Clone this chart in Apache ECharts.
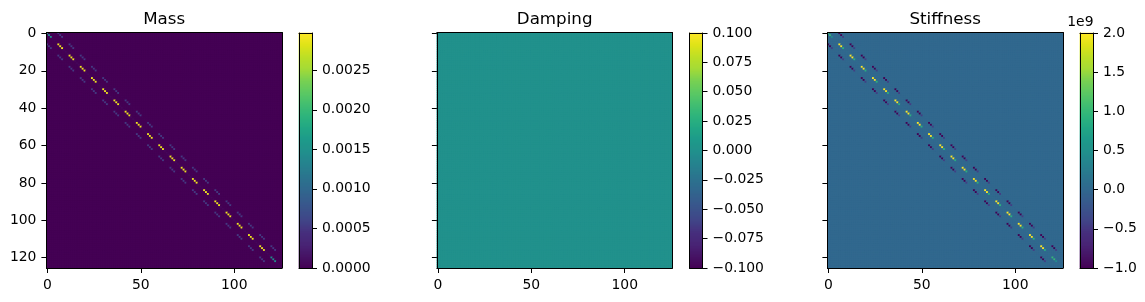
<!DOCTYPE html>
<html><head><meta charset="utf-8">
<script src="https://cdn.jsdelivr.net/npm/echarts@6/dist/echarts.min.js"></script>
<style>html,body{margin:0;padding:0;background:#fff}#c{width:1145px;height:302px}</style>
</head><body><div id="c"></div>
<script>
// ---------------- data ----------------
const titles = ['Mass', 'Damping', 'Stiffness'];
const nNodes = 21;
const dofPerNode = 6;
// mass matrix blocks (per node, per dof)
const massDiagEnd = [0.00145, 0.00145, 0.00145, 0.00002, 0.00002, 0.00002];
const massDiagMid = [0.0029, 0.0029, 0.0029, 0.00004, 0.00004, 0.00004];
const massOff     = [0.00052, 0.00052, 0.00052, 0.00001, 0.00001, 0.00001];
// damping matrix blocks (all zero)
const dampDiagEnd = [0, 0, 0, 0, 0, 0];
const dampDiagMid = [0, 0, 0, 0, 0, 0];
const dampOff     = [0, 0, 0, 0, 0, 0];
// stiffness matrix blocks
const stiffDiagEnd = [1.0e9, 1.0e9, 0.45e9, 0.02e9, 0.02e9, 0.02e9];
const stiffDiagMid = [2.0e9, 2.0e9, 0.9e9, 0.04e9, 0.04e9, 0.04e9];
const stiffOff     = [-1.0e9, -1.0e9, -0.45e9, -0.02e9, -0.02e9, -0.02e9];
// tick labels
const xTicks = [0, 50, 100];
const yTicks = [0, 20, 40, 60, 80, 100, 120];
const massRange = [0, 0.00297];
const dampRange = [-0.1, 0.1];
const stiffRange = [-1.0e9, 2.0e9];
const massCbTicks = [0, 0.0005, 0.0010, 0.0015, 0.0020, 0.0025];
const dampCbTicks = [-0.100, -0.075, -0.050, -0.025, 0, 0.025, 0.050, 0.075, 0.100];
const stiffCbTicks = [-1.0, -0.5, 0.0, 0.5, 1.0, 1.5, 2.0]; // x 1e9
const cbDecimals = [4, 3, 1];
const offsetText = '1e9';

// ---------------- helpers ----------------
const viridis = ['#440154','#471365','#482475','#472f7d','#414487','#3b528b','#355f8d','#2f6c8e','#2a788e','#25848e','#21918c','#1e9b8a','#22a884','#2fb47c','#44bf70','#5ec962','#7ad151','#a5db36','#bddf26','#dfe318','#fde725'];
function assemble(diagEnd, diagMid, off) {
  const n = nNodes * dofPerNode;
  const M = Array.from({length: n}, () => new Array(n).fill(0));
  for (let k = 0; k < nNodes; k++) {
    const d = (k === 0 || k === nNodes - 1) ? diagEnd : diagMid;
    for (let j = 0; j < dofPerNode; j++) {
      const i = k * dofPerNode + j;
      M[i][i] = d[j];
      if (k < nNodes - 1) { M[i][i + dofPerNode] = off[j]; M[i + dofPerNode][i] = off[j]; }
    }
  }
  return M;
}
const mats = [assemble(massDiagEnd, massDiagMid, massOff), assemble(dampDiagEnd, dampDiagMid, dampOff), assemble(stiffDiagEnd, stiffDiagMid, stiffOff)];
const ranges = [massRange, dampRange, stiffRange];
const cbTicks = [massCbTicks, dampCbTicks, stiffCbTicks];
const cbScale = [1, 1, 1e9];
const N = nNodes * dofPerNode;
const cats = Array.from({length: N}, (_, i) => String(i));
const FONT = 'DejaVu Sans';
const tickFs = 13.9;

// layout
const panelLeft = [46.4, 436.9, 827.4];
const cbLeft = [299, 689.5, 1080];
const gridTop = 32.5, size = 235.5, cbW = 13;
const cbTop = 33, cbH = 235;
const bgZero = ['#440154', '#21918c', '#31688e'];

const grids = [], xAxes = [], yAxes = [], series = [], visualMaps = [];
const lineOnly = (extra) => Object.assign({
  axisLine: {show: true, onZero: false, lineStyle: {color: '#000', width: 1}},
  axisTick: {show: false}, axisLabel: {show: false}, splitLine: {show: false}, z: 10
}, extra);
function fmt(v, d) { return v.toFixed(d).replace('-', '\u2212'); }

for (let p = 0; p < 3; p++) {
  const g = grids.length;
  grids.push({left: panelLeft[p], top: gridTop, width: size, height: size, show: true, backgroundColor: bgZero[p], borderWidth: 0});
  const xb = xAxes.length;
  xAxes.push({type: 'category', gridIndex: g, data: cats, position: 'bottom', z: 10,
    axisLine: {show: true, onZero: false, lineStyle: {color: '#000', width: 1}},
    axisTick: {show: true, length: 5, alignWithLabel: true, interval: (i) => xTicks.includes(i), lineStyle: {color: '#000', width: 1}},
    axisLabel: {show: true, interval: (i) => xTicks.includes(i), margin: 10, color: '#000', fontSize: tickFs, fontFamily: FONT},
    splitLine: {show: false}});
  xAxes.push(lineOnly({type: 'category', gridIndex: g, data: cats, position: 'top'}));
  const yl = yAxes.length;
  yAxes.push({type: 'category', gridIndex: g, data: cats, inverse: true, position: 'left', z: 10,
    axisLine: {show: true, onZero: false, lineStyle: {color: '#000', width: 1}},
    axisTick: {show: true, length: 5, alignWithLabel: true, interval: (i) => yTicks.includes(i), lineStyle: {color: '#000', width: 1}},
    axisLabel: {show: p === 0, interval: (i) => yTicks.includes(i), margin: 10, color: '#000', fontSize: tickFs, fontFamily: FONT},
    splitLine: {show: false}});
  yAxes.push(lineOnly({type: 'category', gridIndex: g, data: cats, position: 'right'}));
  const data = [];
  const M = mats[p];
  for (let r = 0; r < N; r++) for (let c = 0; c < N; c++) data.push([c, r, M[r][c]]);
  const sPanel = series.length;
  series.push({type: 'heatmap', xAxisIndex: xb, yAxisIndex: yl, data: data, progressive: 0, animation: false,
    emphasis: {disabled: true}, itemStyle: {borderWidth: 0}});

  const gc = grids.length;
  grids.push({left: cbLeft[p], top: cbTop, width: cbW, height: cbH, show: false});
  const levels = cbH;
  const [lo, hi] = ranges[p];
  const lvCats = Array.from({length: levels}, (_, i) => String(i));
  const cbx = xAxes.length;
  xAxes.push(lineOnly({type: 'category', gridIndex: gc, data: ['0'], position: 'bottom'}));
  xAxes.push(lineOnly({type: 'category', gridIndex: gc, data: ['0'], position: 'top'}));
  const cby = yAxes.length;
  yAxes.push(lineOnly({type: 'category', gridIndex: gc, data: lvCats, position: 'left'}));
  const sc = cbScale[p];
  yAxes.push({type: 'value', gridIndex: gc, position: 'right', min: lo / sc, max: hi / sc, z: 10,
    axisLine: {show: true, onZero: false, lineStyle: {color: '#000', width: 1}},
    axisTick: {show: true, length: 5, inside: false, customValues: cbTicks[p], lineStyle: {color: '#000', width: 1}},
    axisLabel: {show: true, customValues: cbTicks[p], margin: 10, color: '#000', fontSize: tickFs, fontFamily: FONT,
      formatter: (v) => fmt(v, cbDecimals[p])},
    splitLine: {show: false}});
  const cbData = [];
  for (let i = 0; i < levels; i++) cbData.push([0, i, lo + (i + 0.5) * (hi - lo) / levels]);
  const sCb = series.length;
  series.push({type: 'heatmap', xAxisIndex: cbx, yAxisIndex: cby, data: cbData, progressive: 0, animation: false,
    emphasis: {disabled: true}, itemStyle: {borderWidth: 0}});

  visualMaps.push({type: 'continuous', show: false, min: lo, max: hi, seriesIndex: [sPanel, sCb], dimension: 2,
    inRange: {color: viridis}});
}

const graphics = titles.map((t, p) => ({
  type: 'text', x: panelLeft[p] + size / 2, y: 28.5, z: 20,
  style: {text: t, font: '16.7px "DejaVu Sans"', fill: '#000', align: 'center', verticalAlign: 'bottom', textAlign: 'center', textVerticalAlign: 'bottom'}
}));
graphics.push({type: 'text', x: cbLeft[2] + cbW + 0.5, y: 29.5, z: 20,
  style: {text: offsetText, font: '13.9px "DejaVu Sans"', fill: '#000', align: 'right', verticalAlign: 'bottom', textAlign: 'right', textVerticalAlign: 'bottom'}});

const chart = echarts.init(document.getElementById('c'), null, {renderer: 'canvas'});
chart.setOption({
  animation: false,
  backgroundColor: '#fff',
  grid: grids, xAxis: xAxes, yAxis: yAxes, series: series, visualMap: visualMaps,
  graphic: graphics, tooltip: {show: false}
});
</script></body></html>
